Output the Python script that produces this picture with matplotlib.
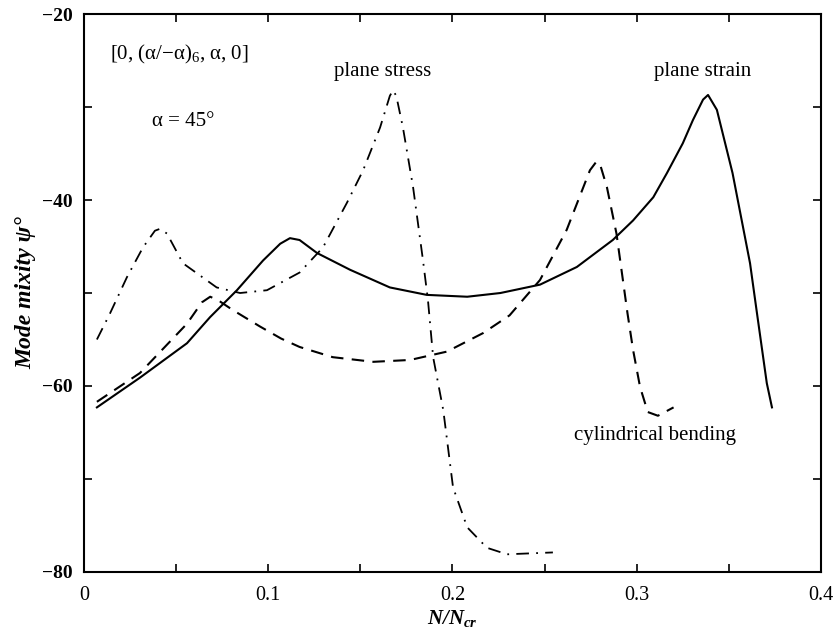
import matplotlib.pyplot as plt
from matplotlib.ticker import MultipleLocator, FixedFormatter, FixedLocator

# plane strain (solid)
strainX = [0.007, 0.0304, 0.0559, 0.0684, 0.083, 0.0972, 0.1065, 0.1118, 0.117, 0.1265,
           0.1444, 0.166, 0.186, 0.208, 0.226, 0.2475, 0.2675, 0.287, 0.298, 0.309,
           0.3164, 0.325, 0.3305, 0.336, 0.3387, 0.3435, 0.352, 0.3615, 0.365, 0.3706,
           0.3734]
strainY = [-62.3, -59.1, -55.4, -52.6, -49.7, -46.5, -44.7, -44.1, -44.3, -45.7,
           -47.5, -49.4, -50.2, -50.4, -50.0, -49.1, -47.2, -44.3, -42.2, -39.7,
           -37.1, -33.9, -31.4, -29.2, -28.7, -30.3, -37.1, -46.8, -51.8, -59.7,
           -62.3]

# cylindrical bending (dashed)
bendX = [0.007, 0.0304, 0.0559, 0.064, 0.0685, 0.073, 0.0805, 0.0955, 0.107, 0.117,
         0.135, 0.157, 0.177, 0.197, 0.2167, 0.231, 0.2475, 0.262, 0.2746, 0.278,
         0.28, 0.2838, 0.289, 0.295, 0.298, 0.3018, 0.306, 0.3115, 0.32]
bendY = [-61.7, -58.6, -53.3, -51.0, -50.4, -50.8, -51.8, -53.6, -54.9, -55.8,
         -56.9, -57.4, -57.2, -56.3, -54.3, -52.4, -48.6, -43.2, -36.8, -35.9,
         -36.1, -38.6, -43.6, -52.2, -56.1, -60.1, -62.8, -63.2, -62.3]

# plane stress (dash-dot)
stressX = [0.007, 0.0141, 0.0233, 0.032, 0.0385, 0.0412, 0.045, 0.0537, 0.072, 0.0847,
           0.0993, 0.117, 0.1297, 0.1427, 0.1515, 0.1607, 0.166, 0.1677, 0.1695, 0.1731,
           0.1786, 0.184, 0.1867, 0.1895, 0.195, 0.2003, 0.208, 0.2187, 0.2296, 0.2545]
stressY = [-55.0, -52.2, -48.3, -45.1, -43.3, -43.1, -43.6, -46.8, -49.4, -50.0,
           -49.7, -47.8, -45.1, -40.3, -36.8, -32.2, -28.8, -28.2, -28.8, -32.2,
           -38.6, -46.5, -50.8, -56.9, -62.6, -70.9, -75.2, -77.4, -78.1, -77.9]

xTicks = [0, 0.1, 0.2, 0.3, 0.4]
xTickLabels = ['0', '0.1', '0.2', '0.3', '0.4']
yTicks = [-80, -60, -40, -20]
yTickLabels = ['\u221280', '\u221260', '\u221240', '\u221220']

plt.rcParams['font.family'] = ['Liberation Serif', 'DejaVu Serif']
plt.rcParams['mathtext.fontset'] = 'custom'
plt.rcParams['mathtext.rm'] = 'Liberation Serif'
plt.rcParams['mathtext.it'] = 'Liberation Serif:italic'
plt.rcParams['mathtext.bf'] = 'Liberation Serif:bold'
plt.rcParams['mathtext.bfit'] = 'Liberation Serif:italic:bold'

fig = plt.figure(figsize=(8.35, 6.39), dpi=100)
ax = fig.add_axes([0.1006, 0.1049, 0.8826, 0.8731])

ax.plot(strainX, strainY, color='black', lw=1.5, linestyle='-')
ax.plot(bendX, bendY, color='black', lw=1.5, linestyle=(0, (6, 4)))
ax.plot(stressX, stressY, color='black', lw=1.3, linestyle=(0, (7, 4, 1, 4)))

ax.set_xlim([0, 0.4])
ax.set_ylim([-80, -20])
ax.xaxis.set_major_locator(FixedLocator(xTicks))
ax.xaxis.set_major_formatter(FixedFormatter(xTickLabels))
ax.xaxis.set_minor_locator(MultipleLocator(0.05))
ax.yaxis.set_major_locator(FixedLocator(yTicks))
ax.yaxis.set_major_formatter(FixedFormatter(yTickLabels))
ax.yaxis.set_minor_locator(MultipleLocator(10))
ax.tick_params(which='both', direction='in', top=True, right=True, length=6, width=1.2)
ax.tick_params(axis='x', labelsize=14.5, pad=10)
ax.tick_params(axis='y', labelsize=14, pad=8)
for lbl in ax.get_yticklabels():
    lbl.set_fontweight('bold')
for s in ax.spines.values():
    s.set_linewidth(1.5)

ax.set_xlabel('$\\mathbfit{N/N_{cr}}$', fontsize=15, labelpad=2)
ax.set_ylabel('Mode mixity \u03c8\u00b0', fontsize=17, fontweight='bold', fontstyle='italic', labelpad=4)

ax.text(0.0141, -24.4, '[0, (\u03b1/\u2212\u03b1)$_6$, \u03b1, 0]', fontsize=15, va='center')
ax.text(0.0369, -31.6, '\u03b1 = 45\u00b0', fontsize=15, va='center')
ax.text(0.162, -26.2, 'plane stress', fontsize=15, ha='center', va='center')
ax.text(0.3357, -26.2, 'plane strain', fontsize=15, ha='center', va='center')
ax.text(0.31, -65.3, 'cylindrical bending', fontsize=15, ha='center', va='center')

fig.savefig('out.png', dpi=100)
